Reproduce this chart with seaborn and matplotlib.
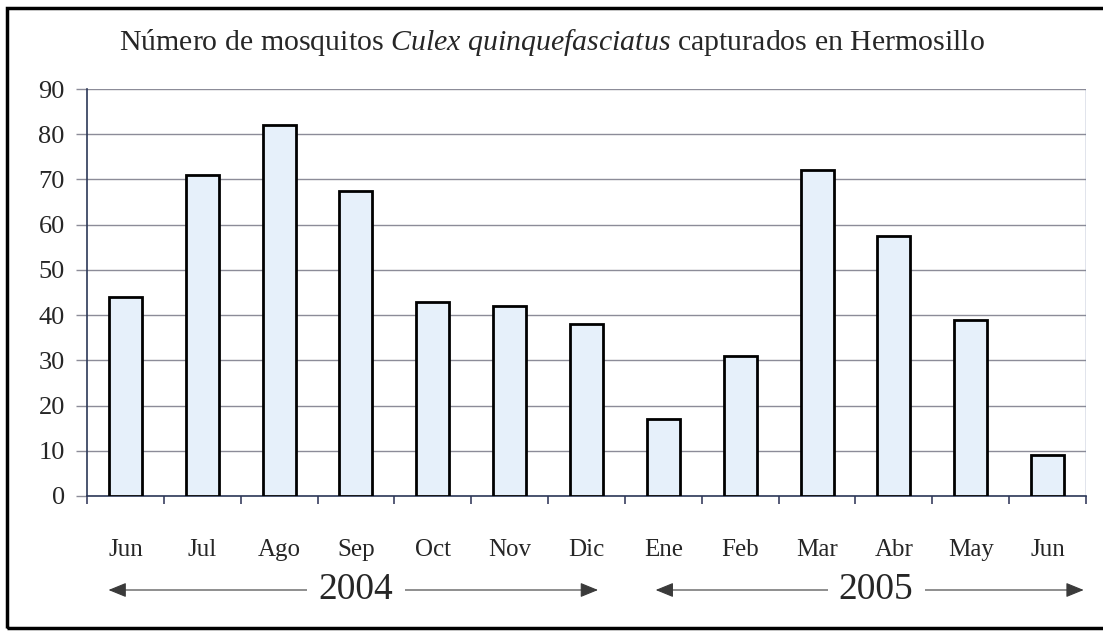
import matplotlib
matplotlib.use('Agg')
import matplotlib.pyplot as plt
import matplotlib.transforms as mtransforms
from matplotlib.patches import Rectangle
import numpy as np
import pandas as pd
import seaborn as sns

# Monthly catches, June 2004 - June 2005
months = ['Jun', 'Jul', 'Ago', 'Sep', 'Oct', 'Nov', 'Dic',
          'Ene', 'Feb', 'Mar', 'Abr', 'May', 'Jun']
years = ['2004'] * 7 + ['2005'] * 6
counts = [44, 71, 82, 67.5, 43, 42, 38, 17, 31, 72, 57.5, 39, 9]

df = pd.DataFrame({'clave': [m + ' ' + y for m, y in zip(months, years)],
                   'mes': months, 'n': counts})

sns.set_style('white')
plt.rcParams['font.family'] = ['Liberation Serif', 'DejaVu Serif']
plt.rcParams['mathtext.fontset'] = 'custom'
plt.rcParams['mathtext.rm'] = 'Liberation Serif'
plt.rcParams['mathtext.it'] = 'Liberation Serif:italic'

fig = plt.figure(figsize=(11.03, 6.31), dpi=100)
ax = fig.add_axes([87 / 1103, 1 - 496 / 631, (1086 - 87) / 1103, (496 - 89) / 631])

sns.barplot(data=df, x='clave', y='n', order=df['clave'], ax=ax,
            color='#e6f0fa', edgecolor='black', linewidth=2, width=0.43,
            saturation=1, zorder=3)

ax.set_xlim(-0.5, len(months) - 0.5)
ax.set_ylim(0, 90)
ax.set_yticks(np.arange(0, 91, 10))
ax.yaxis.grid(True, color='#8c8c98', linewidth=1)
ax.set_axisbelow(True)
ax.set_xlabel('')
ax.set_ylabel('')
ax.set_xticks(range(len(months)))
ax.set_xticklabels(months)
ax.set_xticks(np.arange(-0.5, len(months), 1), minor=True)
ax.tick_params(axis='x', which='major', bottom=False, length=0, pad=31, labelsize=18)
ax.tick_params(axis='x', which='minor', bottom=True, length=6, width=1.2,
               color='#3a4060', direction='out')
ax.tick_params(axis='y', left=True, length=8, width=1, color='#8c8c98',
               direction='out', pad=8, labelsize=19)
for s in ['top', 'right']:
    ax.spines[s].set_visible(False)
ax.spines['left'].set_color('#2c3858')
ax.spines['bottom'].set_color('#2c3858')
ax.spines['left'].set_linewidth(1.2)
ax.spines['bottom'].set_linewidth(1.2)
ax.axvline(len(months) - 0.5, color='#6878a0', linewidth=1)

# year arrows under the month labels
trans = mtransforms.blended_transform_factory(ax.transData, fig.transFigure)
yy = 1 - 590 / 631
spans = [('2004', -0.22, 6.15, 3.0), ('2005', 6.9, 12.47, 9.77)]
for label, x0, x1, xc in spans:
    ax.annotate('', xy=(x1, yy), xytext=(x0, yy), xycoords=trans, textcoords=trans,
                arrowprops=dict(arrowstyle='<|-|>,head_length=1.1,head_width=0.45',
                                color='#3a3a3a', lw=0.8, shrinkA=0, shrinkB=0),
                annotation_clip=False)
    ax.text(xc, yy, label, transform=trans, ha='center', va='center', fontsize=27,
            bbox=dict(facecolor='white', edgecolor='none', pad=8), clip_on=False)

fig.text(0.5, 1 - 43 / 631,
         r'Número de mosquitos $\mathit{Culex\ quinquefasciatus}$ capturados en Hermosillo',
         ha='center', va='center', fontsize=21.5)

fig.patches.append(Rectangle((7 / 1103, 1 - 628 / 631), 1.1, (628 - 8) / 631,
                             transform=fig.transFigure, fill=False,
                             edgecolor='black', linewidth=2.5))

fig.savefig('out.png', dpi=100)
